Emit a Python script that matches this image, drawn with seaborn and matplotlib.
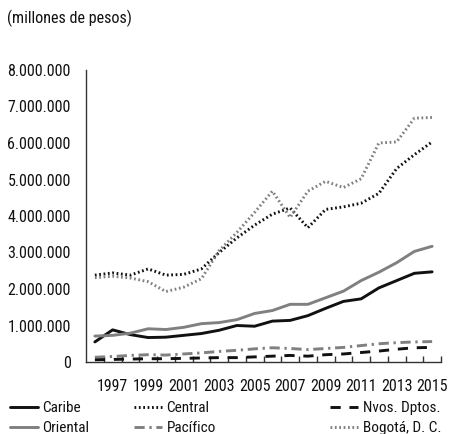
import matplotlib
matplotlib.use("Agg")
import matplotlib.pyplot as plt
from matplotlib import font_manager
from matplotlib.ticker import FuncFormatter, FixedLocator
import seaborn as sns
import pandas as pd

# Annual series, 1996-2015 (millones de pesos)
years = list(range(1996, 2016))
caribe = [0.55, 0.88, 0.75, 0.67, 0.68, 0.73, 0.78, 0.87, 1.00, 0.98,
          1.12, 1.14, 1.27, 1.47, 1.66, 1.73, 2.03, 2.23, 2.43, 2.47]
oriental = [0.71, 0.73, 0.79, 0.91, 0.89, 0.95, 1.05, 1.08, 1.16, 1.33,
            1.41, 1.58, 1.58, 1.76, 1.94, 2.23, 2.46, 2.72, 3.03, 3.17]
central = [2.38, 2.44, 2.38, 2.55, 2.38, 2.40, 2.55, 3.00, 3.40, 3.75,
           4.05, 4.22, 3.68, 4.18, 4.25, 4.35, 4.62, 5.30, 5.68, 6.03]
pacifico = [0.13, 0.15, 0.18, 0.20, 0.19, 0.22, 0.25, 0.29, 0.32, 0.36,
            0.39, 0.37, 0.34, 0.37, 0.40, 0.45, 0.50, 0.53, 0.55, 0.56]
nvos = [0.06, 0.07, 0.08, 0.09, 0.09, 0.10, 0.11, 0.12, 0.12, 0.14,
        0.16, 0.18, 0.16, 0.20, 0.22, 0.26, 0.30, 0.35, 0.39, 0.40]
bogota = [2.31, 2.35, 2.30, 2.20, 1.93, 2.05, 2.28, 3.05, 3.55, 4.10,
          4.68, 3.96, 4.68, 4.95, 4.78, 5.02, 6.00, 6.03, 6.68, 6.70]

series_names = ["Caribe", "Oriental", "Central", "Pacífico", "Nvos. Dptos.", "Bogotá, D. C."]
series_values = [caribe, oriental, central, pacifico, nvos, bogota]
x_labels = [str(y) for y in range(1997, 2016, 2)]
y_ticks = [0, 1e6, 2e6, 3e6, 4e6, 5e6, 6e6, 7e6, 8e6]

rows = []
for name, vals in zip(series_names, series_values):
    for yr, v in zip(years, vals):
        rows.append({"Año": yr, "Valor": v * 1e6, "Región": name})
df = pd.DataFrame(rows)

sns.set_theme(style="white")

# Prefer a condensed sans face for the narrow lettering; otherwise plain sans.
condensed = [f for f in font_manager.fontManager.ttflist
             if f.stretch in ("condensed", "semi-condensed")
             and f.style == "normal" and f.weight in (400, "normal", "regular")]
pref = ["Liberation Sans Narrow", "Roboto Condensed", "Open Sans Condensed",
        "Noto Sans", "DejaVu Sans"]
condensed.sort(key=lambda f: pref.index(f.name) if f.name in pref else len(pref))
if condensed:
    plt.rcParams["font.family"] = [condensed[0].name, "DejaVu Sans"]
    plt.rcParams["font.stretch"] = condensed[0].stretch
    TICK_FS, LEG_FS, TITLE_FS = 11.5, 11, 11.6
else:
    plt.rcParams["font.family"] = ["Liberation Sans", "DejaVu Sans"]
    TICK_FS, LEG_FS, TITLE_FS = 10, 9.6, 10

BLACK = "#111111"
GRAY = "#808080"
palette = {"Caribe": BLACK, "Central": BLACK, "Nvos. Dptos.": BLACK,
           "Oriental": GRAY, "Pacífico": GRAY, "Bogotá, D. C.": GRAY}
dashes = {"Caribe": "", "Oriental": "",
          "Central": (0.6, 0.9), "Bogotá, D. C.": (0.6, 0.9),
          "Nvos. Dptos.": (3.5, 3.0), "Pacífico": (3.5, 1.6, 0.8, 1.6)}

fig = plt.figure(figsize=(4.52, 4.34), dpi=100)
ax = fig.add_axes([86 / 452, 1 - 362 / 434, (441 - 86) / 452, (362 - 70) / 434])

sns.lineplot(data=df, x="Año", y="Valor", hue="Región", style="Región",
             hue_order=series_names, style_order=series_names,
             palette=palette, dashes=dashes, linewidth=2.1, ax=ax,
             legend="full")

handles, labels = ax.get_legend_handles_labels()
ax.get_legend().remove()

ax.set_xlim(1995.5, 2015.5)
ax.set_ylim(0, 8e6)
ax.set_xlabel("")
ax.set_ylabel("")

ax.set_yticks(y_ticks)
ax.yaxis.set_major_formatter(FuncFormatter(lambda v, p: f"{int(round(v)):,}".replace(",", ".")))
ax.xaxis.set_major_locator(FixedLocator([int(s) for s in x_labels]))
ax.set_xticklabels(x_labels)
ax.xaxis.set_minor_locator(FixedLocator([y + 0.5 for y in years]))

for s in ["top", "right"]:
    ax.spines[s].set_visible(False)
for s in ["left", "bottom"]:
    ax.spines[s].set_color("#333333")
    ax.spines[s].set_linewidth(1.0)

ax.tick_params(axis="y", which="major", direction="in", length=4, width=1,
               color="#333333", pad=11, labelsize=TICK_FS, labelcolor="#111111")
ax.tick_params(axis="x", which="major", length=0, pad=12, labelsize=TICK_FS,
               labelcolor="#111111")
ax.tick_params(axis="x", which="minor", direction="in", length=4, width=1,
               color="#333333", bottom=True)

fig.text(7 / 452, 1 - 18 / 434, "(millones de pesos)", fontsize=TITLE_FS,
         va="center", ha="left", color="#111111")

# Legend laid out as three columns of two entries each
hmap = dict(zip(labels, handles))
columns = [(["Caribe", "Oriental"], 10),
           (["Central", "Pacífico"], 134),
           (["Nvos. Dptos.", "Bogotá, D. C."], 330)]
for names, xpx in columns:
    fig.legend([hmap[n] for n in names], names, loc="upper left",
               bbox_to_anchor=(xpx / 452, 1 - 401 / 434), frameon=False,
               fontsize=LEG_FS, handlelength=28 / (LEG_FS * 100 / 72),
               handletextpad=0.3, borderpad=0, borderaxespad=0,
               labelspacing=0.4, labelcolor="#111111")

fig.savefig("out.png", dpi=100)
